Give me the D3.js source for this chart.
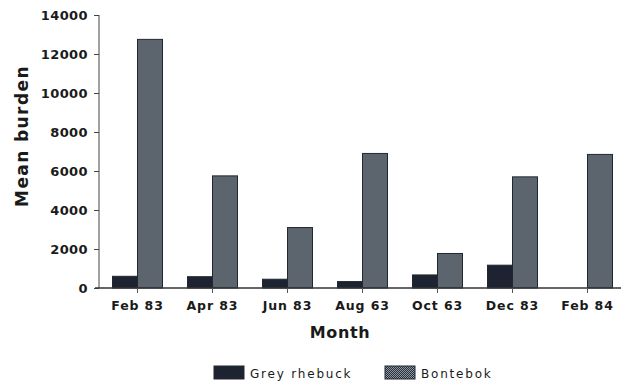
<!DOCTYPE html>
<html>
<head>
<meta charset="utf-8">
<script src="https://cdn.jsdelivr.net/npm/d3@7"></script>
<style>
  html, body { margin: 0; padding: 0; background: #fff; }
  svg { display: block; }
  text { font-family: "DejaVu Sans", sans-serif; fill: #1a1a1a; }
</style>
</head>
<body>
<svg id="chart" width="621" height="383"></svg>
<script>
// Mean parasite burden by sampling month
const months = ["Feb 83", "Apr 83", "Jun 83", "Aug 63", "Oct 63", "Dec 83", "Feb 84"];
const series = ["Grey rhebuck", "Bontebok"];
const greyRhebuck = [600, 580, 450, 330, 670, 1170, 0];
const bontebok = [12750, 5750, 3100, 6900, 1770, 5700, 6850];
const yTicks = [0, 2000, 4000, 6000, 8000, 10000, 12000, 14000];

const svg = d3.select("#chart");

const x = d3.scaleBand().domain(months).range([100, 625])
  .paddingInner(1 / 3).paddingOuter(1 / 6);
const xs = d3.scaleBand().domain(series).range([0, x.bandwidth()]);
const y = d3.scaleLinear().domain([0, 14000]).range([288, 15]);

// checker fill for the Bontebok bars
const defs = svg.append("defs");
const pat = defs.append("pattern").attr("id", "checker")
  .attr("width", 2).attr("height", 2).attr("patternUnits", "userSpaceOnUse");
pat.append("rect").attr("width", 2).attr("height", 2).attr("fill", "#8f979d");
pat.append("rect").attr("width", 1).attr("height", 1).attr("fill", "#283040");
pat.append("rect").attr("x", 1).attr("y", 1).attr("width", 1).attr("height", 1).attr("fill", "#283040");

const fills = { "Grey rhebuck": "#1d2331", "Bontebok": "url(#checker)" };

const rows = months.map((m, i) => ({ month: m, values: [
  { key: "Grey rhebuck", value: greyRhebuck[i] },
  { key: "Bontebok", value: bontebok[i] }
]}));

// bars
const groups = svg.append("g").selectAll("g").data(rows).join("g")
  .attr("transform", d => `translate(${x(d.month)},0)`);
groups.selectAll("rect").data(d => d.values.filter(v => v.value > 0)).join("rect")
  .attr("x", d => xs(d.key))
  .attr("y", d => y(d.value))
  .attr("width", xs.bandwidth())
  .attr("height", d => y(0) - y(d.value))
  .attr("fill", d => fills[d.key])
  .attr("stroke", "#222831")
  .attr("stroke-width", 1);

// y axis
const yAxis = svg.append("g").attr("transform", "translate(99,0)")
  .call(d3.axisLeft(y).tickValues(yTicks).tickSize(5).tickPadding(6).tickFormat(d3.format("d")));
yAxis.select(".domain").attr("stroke", "#444").attr("d", `M0,${y(14000)}V${y(0)}`);
yAxis.selectAll(".tick line").attr("stroke", "#444");
yAxis.selectAll(".tick text")
  .style("font-family", "'DejaVu Sans', sans-serif")
  .style("font-weight", "bold").style("font-size", "13px")
  .style("letter-spacing", "0.4px").attr("fill", "#1a1a1a");

// x axis
const xAxis = svg.append("g").attr("transform", `translate(0,${y(0)})`)
  .call(d3.axisBottom(x).tickSize(5).tickPadding(8));
xAxis.select(".domain").attr("stroke", "#333").attr("stroke-width", 1.3).attr("d", "M95,0H621");
xAxis.selectAll(".tick line").attr("stroke", "#555");
xAxis.selectAll(".tick text")
  .style("font-family", "'DejaVu Sans', sans-serif")
  .style("font-weight", "bold").style("font-size", "12.5px")
  .style("letter-spacing", "0.9px").attr("fill", "#1a1a1a");

// axis titles
svg.append("text")
  .attr("x", 340).attr("y", 338)
  .attr("text-anchor", "middle")
  .style("font-weight", "bold").style("font-size", "16px").style("letter-spacing", "0.6px")
  .text("Month");

svg.append("text")
  .attr("transform", "translate(28,136) rotate(-90)")
  .attr("text-anchor", "middle")
  .style("font-weight", "bold").style("font-size", "17px").style("letter-spacing", "1.4px")
  .text("Mean burden");

// legend
const legendPos = [214, 385];
const legend = svg.append("g").selectAll("g").data(series).join("g")
  .attr("transform", (d, i) => `translate(${legendPos[i]},366)`);
legend.append("rect")
  .attr("width", 30).attr("height", 13)
  .attr("fill", d => fills[d])
  .attr("stroke", "#222831");
legend.append("text")
  .attr("x", 36).attr("y", 12)
  .style("font-size", "12px").style("letter-spacing", "1.8px")
  .attr("fill", "#333")
  .text(d => d);
</script>
</body>
</html>
